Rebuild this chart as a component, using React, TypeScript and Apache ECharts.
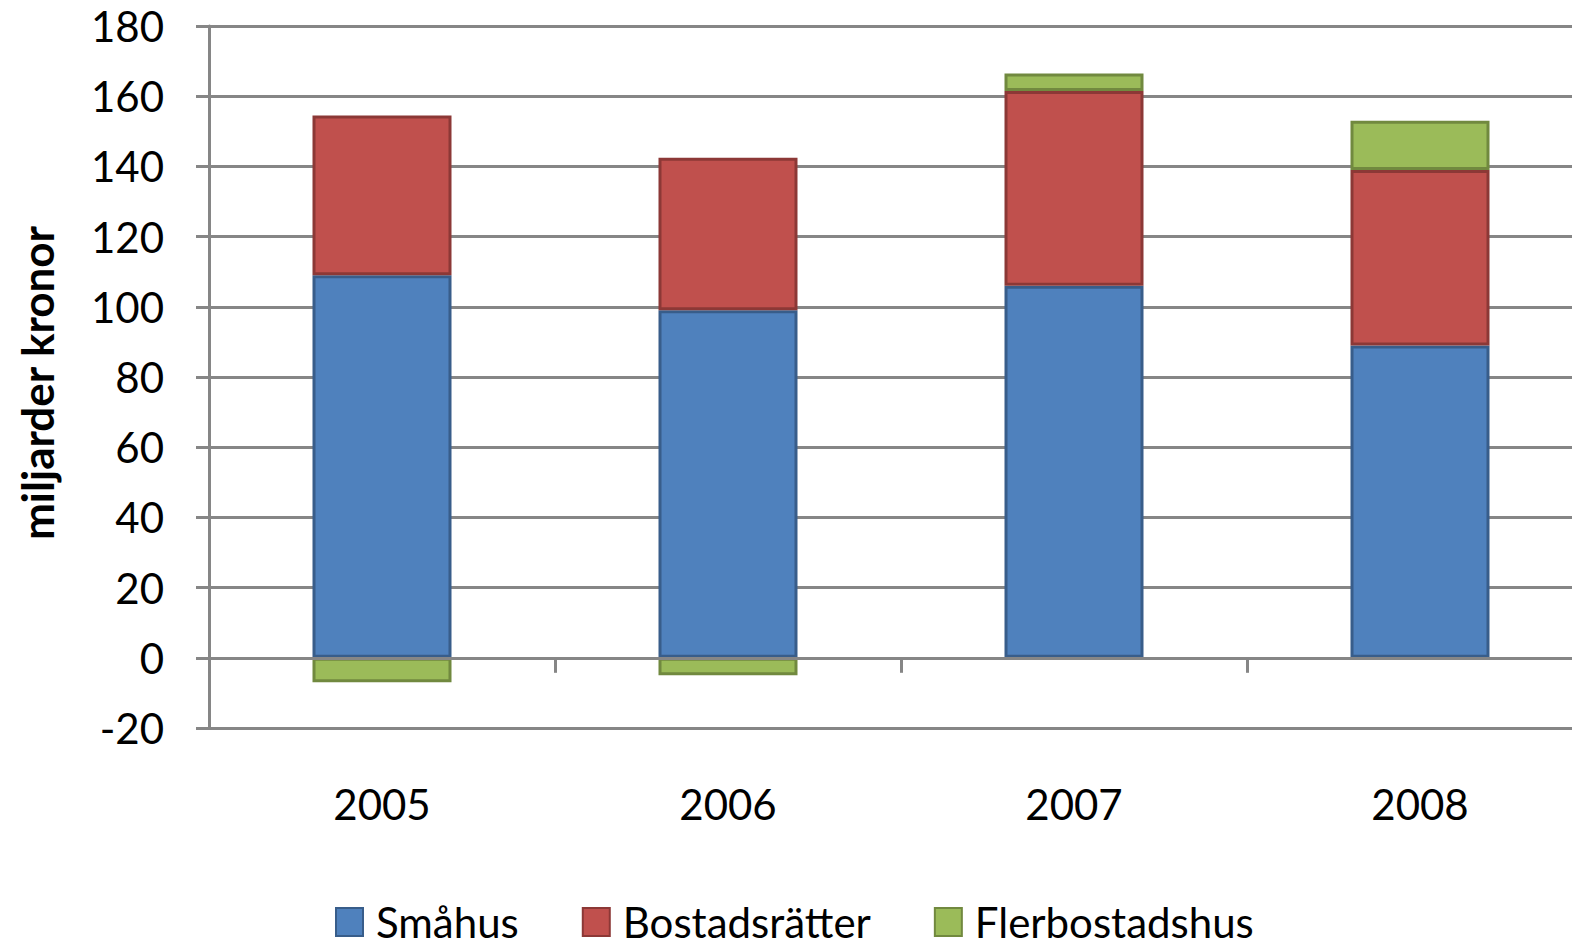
import React, { useEffect, useRef } from "react";
import * as echarts from "echarts";

const categories = ["2005", "2006", "2007", "2008"];
const smahus = [109, 99, 106, 89];
const bostadsratter = [45.5, 43.5, 55.5, 50];
const flerbostadshus = [-7, -5, 5, 14];
const seriesNames = ["Småhus", "Bostadsrätter", "Flerbostadshus"];
const yTitle = "miljarder kronor";

const FONT = "Lato, 'Open Sans', sans-serif";
const GRID = "#868686";

export default function App() {
  const ref = useRef<HTMLDivElement>(null);
  useEffect(() => {
    if (!ref.current) return;
    const chart = echarts.init(ref.current, null, { renderer: "svg" });
    const bar = (name: string, data: number[], color: string, border: string) => ({
      name,
      type: "bar",
      stack: "total",
      xAxisIndex: 0,
      yAxisIndex: 0,
      barWidth: 139,
      data,
      itemStyle: { color, borderColor: border, borderWidth: 3 },
    });
    chart.setOption({
      animation: false,
      backgroundColor: "#fff",
      textStyle: { fontFamily: FONT },
      grid: {
        left: 209,
        top: 26,
        width: 1384,
        bottom: 216,
        containLabel: false,
        outerBoundsMode: "none",
      },
      graphic: [
        {
          type: "text",
          x: 37,
          y: 383,
          rotation: Math.PI / 2,
          style: {
            text: yTitle,
            fill: "#000",
            font: `bold 44px ${FONT}`,
            textAlign: "center",
            textVerticalAlign: "middle",
          },
        },
      ],
      legend: {
        left: 335,
        top: 901,
        padding: 0,
        itemWidth: 27,
        itemHeight: 28,
        itemGap: 63,
        icon: "rect",
        textStyle: {
          fontSize: 42,
          lineHeight: 40,
          color: "#000",
          fontFamily: FONT,
          padding: [0, 0, 0, 8],
        },
        data: seriesNames,
      },
      xAxis: [
        {
          type: "category",
          data: categories,
          position: "bottom",
          axisLine: { show: false, onZero: false },
          axisTick: { show: false },
          axisLabel: { fontSize: 42, color: "#000", margin: 55, fontFamily: FONT },
          splitLine: { show: false },
        },
        {
          type: "category",
          data: categories,
          position: "bottom",
          z: 5,
          axisLine: { show: true, onZero: true, lineStyle: { color: GRID, width: 3 } },
          axisTick: { show: true, length: 15, lineStyle: { color: GRID, width: 3 } },
          axisLabel: { show: false },
          splitLine: { show: false },
        },
      ],
      yAxis: {
        type: "value",
        min: -20,
        max: 180,
        interval: 20,
        axisLine: { show: true, lineStyle: { color: GRID, width: 3 } },
        axisTick: { show: true, length: 13, lineStyle: { color: GRID, width: 3 } },
        axisLabel: { fontSize: 42, color: "#000", margin: 45, fontFamily: FONT },
        splitLine: { show: true, lineStyle: { color: GRID, width: 3 } },
      },
      series: [
        bar(seriesNames[0], smahus, "#4F81BD", "#385D8A"),
        bar(seriesNames[1], bostadsratter, "#C0504D", "#8C3836"),
        bar(seriesNames[2], flerbostadshus, "#9BBB59", "#71893F"),
      ],
    });
    return () => chart.dispose();
  }, []);
  return (
    <div
      ref={ref}
      style={{ position: "fixed", left: 0, top: 0, width: 1572, height: 944, overflow: "hidden" }}
    />
  );
}
